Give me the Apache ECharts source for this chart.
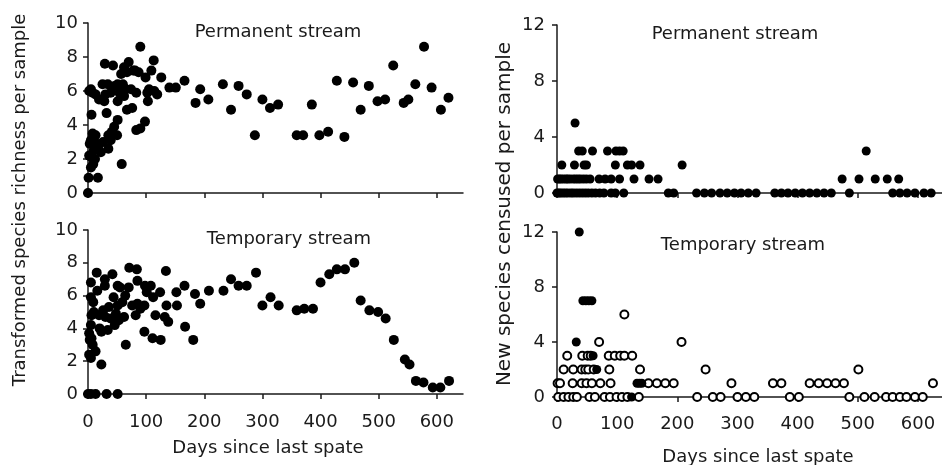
<!DOCTYPE html>
<html>
<head>
<meta charset="utf-8">
<script src="https://cdn.jsdelivr.net/npm/echarts@6/dist/echarts.min.js"></script>
<style>
  html, body { margin: 0; padding: 0; background: #fff; }
  #chart { width: 942px; height: 465px; }
</style>
</head>
<body>
<div id="chart"></div>
<script>
// [days since last spate, value]
var permRichness = [
  [0, 0], [1, 0.9], [17, 0.9], [5, 1.5], [9, 1.7], [58, 1.7], [6, 2.1], [22, 2.4], [10, 2.5], [35, 2.6],
  [2, 2.2], [12, 2.0], [18, 2.8], [3, 2.9], [26, 3.0],
  [5, 3.1], [15, 2.9], [39, 3.1], [13, 3.4], [35, 3.4], [50, 3.4], [8, 3.5], [41, 3.6], [45, 3.9], [83, 3.7],
  [90, 3.8], [98, 4.2], [51, 4.3], [6, 4.6], [32, 4.7], [67, 4.9], [76, 5.0], [5, 6.1], [2, 6.0], [8, 5.9],
  [13, 5.8], [19, 5.5], [28, 5.4], [30, 5.8], [25, 6.4], [34, 6.4], [39, 5.9], [46, 6.3], [51, 6.4], [54, 5.9],
  [51, 5.4], [62, 5.7], [65, 6.1], [60, 6.4], [74, 6.1], [57, 7.0], [67, 7.1], [62, 7.4], [70, 7.7], [78, 7.2],
  [81, 7.2], [87, 7.1], [29, 7.6], [43, 7.5], [90, 8.6], [83, 5.9], [99, 6.8], [102, 5.9], [103, 5.4], [105, 6.1],
  [109, 7.2], [113, 7.8], [114, 6.0], [119, 5.8], [126, 6.8], [140, 6.2], [151, 6.2], [166, 6.6], [185, 5.3], [193, 6.1],
  [207, 5.5], [232, 6.4], [246, 4.9], [259, 6.3], [273, 5.8], [287, 3.4], [300, 5.5], [313, 5.0], [327, 5.2], [359, 3.4],
  [370, 3.4], [385, 5.2], [398, 3.4], [413, 3.6], [428, 6.6], [441, 3.3], [456, 6.5], [469, 4.9], [483, 6.3], [498, 5.4],
  [511, 5.5], [525, 7.5], [543, 5.3], [551, 5.5], [563, 6.4], [578, 8.6], [591, 6.2], [607, 4.9], [620, 5.6]
];

var tempRichness = [
  [0, 0], [5, 0], [13, 0], [32, 0], [51, 0], [23, 1.8], [5, 2.2], [2, 2.4], [13, 2.6], [8, 3.0],
  [3, 3.3], [6, 3.4], [2, 3.7], [5, 4.2], [20, 4.0], [23, 3.8], [34, 3.9], [46, 4.2], [65, 3.0], [97, 3.8],
  [111, 3.4], [125, 3.3], [6, 4.8], [10, 5.0], [19, 4.8], [26, 5.1], [30, 4.7], [39, 4.6], [48, 4.9], [62, 4.7],
  [53, 4.5], [82, 4.8], [116, 4.8], [132, 4.7], [138, 4.4], [5, 5.9], [9, 5.6], [36, 5.3], [44, 5.9], [51, 5.4],
  [59, 5.6], [64, 6.0], [76, 5.4], [85, 5.5], [90, 5.2], [97, 5.4], [135, 5.4], [153, 5.4], [16, 6.3], [5, 6.8],
  [29, 7.0], [29, 6.6], [51, 6.6], [55, 6.5], [70, 6.5], [85, 6.9], [98, 6.6], [108, 6.6], [101, 6.2], [112, 5.9],
  [124, 6.2], [15, 7.4], [42, 7.3], [71, 7.7], [84, 7.6], [134, 7.5], [152, 6.2], [166, 6.6], [167, 4.1], [181, 3.3],
  [184, 6.1], [193, 5.5], [208, 6.3], [233, 6.3], [246, 7.0], [259, 6.6], [273, 6.6], [289, 7.4], [300, 5.4], [314, 5.9],
  [328, 5.4], [359, 5.1], [372, 5.2], [387, 5.2], [400, 6.8], [415, 7.3], [428, 7.6], [442, 7.6], [458, 8.0], [469, 5.7],
  [484, 5.1], [499, 5.0], [512, 4.6], [526, 3.3], [545, 2.1], [553, 1.8], [564, 0.8], [577, 0.7], [593, 0.4], [606, 0.4],
  [621, 0.8]
];

var permNew = [
  [30, 5],
  [36, 3], [42, 3], [59, 3], [84, 3], [98, 3], [104, 3], [110, 3], [514, 3],
  [8, 2], [29, 2], [45, 2], [49, 2], [97, 2], [117, 2], [124, 2], [138, 2], [208, 2],
  [1, 1], [4, 1], [7, 1], [11, 1], [15, 1], [18, 1], [22, 1], [27, 1], [31, 1], [35, 1], [39, 1], [44, 1], [49, 1],
  [55, 1], [70, 1], [80, 1], [90, 1], [104, 1], [128, 1], [153, 1], [168, 1], [474, 1], [502, 1], [529, 1], [549, 1], [568, 1],
  [0, 0], [3, 0], [6, 0], [10, 0], [14, 0], [18, 0], [23, 0], [27, 0], [32, 0], [37, 0], [42, 0], [47, 0], [52, 0],
  [58, 0], [64, 0], [71, 0], [78, 0], [90, 0], [97, 0], [111, 0], [185, 0], [194, 0], [232, 0], [245, 0], [257, 0],
  [271, 0], [283, 0], [295, 0], [306, 0], [318, 0], [331, 0], [362, 0], [373, 0], [384, 0], [396, 0], [408, 0], [420, 0],
  [432, 0], [444, 0], [456, 0], [486, 0], [558, 0], [570, 0], [582, 0], [595, 0], [610, 0], [622, 0]
];

var tempNewOpen = [
  [112, 6],
  [70, 4], [207, 4],
  [17, 3], [42, 3], [51, 3], [56, 3], [86, 3], [96, 3], [105, 3], [112, 3], [125, 3],
  [11, 2], [27, 2], [41, 2], [47, 2], [52, 2], [61, 2], [87, 2], [138, 2], [247, 2], [501, 2],
  [1, 1], [5, 1], [26, 1], [41, 1], [49, 1], [58, 1], [72, 1], [89, 1], [152, 1], [166, 1], [180, 1], [194, 1],
  [290, 1], [359, 1], [373, 1], [420, 1], [435, 1], [449, 1], [463, 1], [477, 1], [625, 1],
  [2, 0], [11, 0], [19, 0], [27, 0], [33, 0], [54, 0], [63, 0], [79, 0], [88, 0], [99, 0], [108, 0], [117, 0],
  [136, 0], [233, 0], [259, 0], [272, 0], [300, 0], [314, 0], [328, 0], [387, 0], [402, 0], [486, 0], [511, 0],
  [528, 0], [547, 0], [558, 0], [570, 0], [581, 0], [595, 0], [608, 0]
];

var tempNewFilled = [
  [37, 12], [32, 4], [43, 7], [48, 7], [53, 7], [58, 7], [60, 3], [66, 2], [133, 1], [137, 1], [141, 1], [124, 0]
];

var dayTicks = [0, 100, 200, 300, 400, 500, 600];
var panelTitles = ['Permanent stream', 'Temporary stream', 'Permanent stream', 'Temporary stream'];

var chart = echarts.init(document.getElementById('chart'), null, { renderer: 'canvas' });

var FONT = '"DejaVu Sans", sans-serif';
var INK = '#1a1a1a';

function xAx(gi, max, showLabels, margin) {
  return {
    gridIndex: gi, type: 'value', min: 0, max: max,
    axisLine: { show: true, onZero: false, lineStyle: { color: INK, width: 1.5 } },
    axisTick: { show: true, inside: false, length: 5, customValues: dayTicks, lineStyle: { color: INK, width: 1.5 } },
    axisLabel: { show: showLabels, customValues: dayTicks, margin: margin, color: INK, fontSize: 18, fontFamily: FONT },
    splitLine: { show: false }
  };
}
function yAx(gi, max, interval, margin) {
  return {
    gridIndex: gi, type: 'value', min: 0, max: max, interval: interval,
    axisLine: { show: true, onZero: false, lineStyle: { color: INK, width: 1.5 } },
    axisTick: { show: true, inside: false, length: 5, lineStyle: { color: INK, width: 1.5 } },
    axisLabel: { margin: margin, color: INK, fontSize: 18, fontFamily: FONT },
    splitLine: { show: false }
  };
}

function txt(text, x, y, rot, size) {
  return {
    type: 'text', x: x, y: y, rotation: rot || 0, silent: true,
    style: {
      text: text, font: (size || 18) + 'px ' + FONT, fill: INK,
      textAlign: 'center', textVerticalAlign: 'middle', align: 'center', verticalAlign: 'middle'
    }
  };
}

var option = {
  animation: false,
  backgroundColor: '#fff',
  grid: [
    { left: 88, top: 23, width: 375, height: 170 },
    { left: 88, top: 230, width: 375, height: 164 },
    { left: 557, top: 25, width: 385, height: 168 },
    { left: 557, top: 232, width: 385, height: 165 }
  ],
  xAxis: [
    xAx(0, 645, false, 18),
    xAx(1, 645, true, 19),
    xAx(2, 640, false, 17),
    xAx(3, 640, true, 18)
  ],
  yAxis: [
    yAx(0, 10, 2, 10),
    yAx(1, 10, 2, 10),
    yAx(2, 12, 4, 12),
    yAx(3, 12, 4, 12)
  ],
  series: [
    { type: 'scatter', xAxisIndex: 0, yAxisIndex: 0, data: permRichness, symbolSize: 10,
      itemStyle: { color: '#000', opacity: 1 } },
    { type: 'scatter', xAxisIndex: 1, yAxisIndex: 1, data: tempRichness, symbolSize: 10,
      itemStyle: { color: '#000', opacity: 1 } },
    { type: 'scatter', xAxisIndex: 2, yAxisIndex: 2, data: permNew, symbolSize: 9,
      itemStyle: { color: '#000', opacity: 1 } },
    { type: 'scatter', xAxisIndex: 3, yAxisIndex: 3, data: tempNewOpen, symbolSize: 8,
      itemStyle: { color: '#fff', borderColor: '#000', borderWidth: 2, opacity: 1 } },
    { type: 'scatter', xAxisIndex: 3, yAxisIndex: 3, data: tempNewFilled, symbolSize: 9,
      itemStyle: { color: '#000', opacity: 1 } }
  ],
  graphic: [
    txt(panelTitles[0], 278, 32),
    txt(panelTitles[1], 289, 239),
    txt(panelTitles[2], 735, 34),
    txt(panelTitles[3], 743, 245),
    txt('Days since last spate', 268, 448),
    txt('Days since last spate', 758, 457),
    txt('Transformed species richness per sample', 20, 200, Math.PI / 2),
    txt('New species censused per sample', 505, 214, Math.PI / 2, 20)
  ]
};

chart.setOption(option);
</script>
</body>
</html>
